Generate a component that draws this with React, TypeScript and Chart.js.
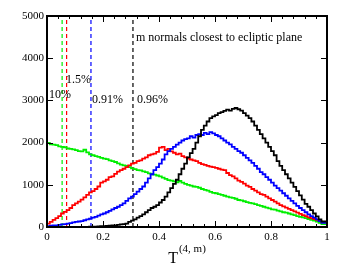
import React, { useEffect, useRef } from "react";
import { Chart, registerables } from "chart.js";

Chart.register(...registerables);

const binWidth = 0.01;

const blackCounts = [
  0, 0, 0, 0, 0, 0, 0, 0, 0, 0,
  0, 0, 0, 0, 5, 5, 10, 10, 10, 15,
  20, 20, 25, 30, 35, 40, 50, 60, 70, 80,
  120, 150, 180, 220, 260, 300, 350, 400, 450, 480,
  520, 580, 640, 720, 820, 920, 1020, 1120, 1250, 1380,
  1500, 1650, 1750, 1850, 2000, 2150, 2300, 2400, 2500, 2580,
  2620, 2650, 2700, 2720, 2750, 2780, 2760, 2800, 2820, 2790,
  2760, 2700, 2640, 2580, 2500, 2400, 2300, 2200, 2100, 2000,
  1900, 1800, 1700, 1560, 1450, 1350, 1250, 1150, 1050, 950,
  850, 750, 650, 550, 480, 400, 320, 250, 180, 130,
];

const blueCounts = [
  10, 20, 30, 40, 40, 50, 60, 70, 80, 90,
  110, 120, 130, 140, 160, 180, 200, 220, 240, 270,
  300, 320, 350, 380, 420, 450, 480, 520, 560, 620,
  680, 720, 780, 840, 900, 960, 1050, 1150, 1250, 1350,
  1420, 1500, 1600, 1720, 1800, 1850, 1900, 1950, 2000, 2050,
  2080, 2100, 2150, 2120, 2180, 2200, 2180, 2230, 2200, 2250,
  2220, 2180, 2150, 2100, 2050, 2000, 1960, 1900, 1850, 1800,
  1760, 1700, 1640, 1580, 1520, 1450, 1380, 1300, 1250, 1180,
  1120, 1050, 980, 920, 860, 800, 740, 680, 620, 560,
  500, 450, 400, 350, 300, 260, 220, 180, 140, 100,
];

const redCounts = [
  30, 80, 120, 170, 210, 260, 320, 360, 400, 450,
  520, 560, 600, 650, 700, 760, 820, 850, 900, 960,
  1050, 1080, 1120, 1180, 1200, 1260, 1310, 1350, 1380, 1420,
  1460, 1500, 1520, 1560, 1580, 1620, 1650, 1700, 1720, 1740,
  1780, 1880, 1900, 1820, 1850, 1790, 1760, 1720, 1740, 1680,
  1650, 1620, 1600, 1580, 1560, 1520, 1490, 1470, 1450, 1430,
  1420, 1400, 1380, 1360, 1350, 1280, 1230, 1200, 1150, 1100,
  1070, 1030, 980, 950, 900, 860, 820, 780, 760, 720,
  680, 640, 600, 560, 520, 490, 460, 430, 400, 370,
  340, 310, 280, 260, 230, 210, 190, 170, 140, 110,
];

const greenCounts = [
  2000, 1990, 1960, 1950, 1940, 1910, 1900, 1890, 1860, 1850,
  1840, 1820, 1800, 1790, 1830, 1770, 1720, 1700, 1680, 1660,
  1640, 1620, 1610, 1580, 1560, 1540, 1510, 1480, 1460, 1450,
  1420, 1390, 1370, 1350, 1340, 1320, 1300, 1270, 1250, 1240,
  1220, 1200, 1170, 1140, 1110, 1100, 1080, 1060, 1090, 1050,
  1020, 1000, 980, 960, 950, 930, 900, 880, 860, 830,
  810, 800, 780, 760, 740, 720, 700, 690, 670, 640,
  630, 610, 590, 570, 560, 540, 520, 500, 480, 460,
  440, 420, 410, 390, 370, 350, 340, 320, 300, 280,
  260, 240, 230, 210, 190, 170, 150, 130, 100, 70,
];

const seriesColors = ["#000000", "#0000ff", "#ff0000", "#00ee00"];
const seriesCounts = [blackCounts, blueCounts, redCounts, greenCounts];

// dashed thresholds (green, red, blue, black)
const thresholdX = [0.054, 0.07, 0.157, 0.307];
const thresholdColors = ["#00ee00", "#ff0000", "#0000ff", "#000000"];

// text labels: [text, x, y]
const labelTexts = ["10%", "1.5%", "0.91%", "0.96%", "m normals closest to ecliptic plane"];
const labelX = [0.007, 0.068, 0.161, 0.321, 0.318];
const labelY = [3057, 3412, 2938, 2938, 4408];

const xTicks = [0, 0.2, 0.4, 0.6, 0.8, 1];
const yTicks = [0, 1000, 2000, 3000, 4000, 5000];
const xMinorStep = 0.04;

const SERIF = "'Liberation Serif', 'DejaVu Serif', serif";

function histPoints(counts: number[]) {
  const pts = counts.map((v, i) => ({ x: i * binWidth, y: v }));
  pts.push({ x: counts.length * binWidth, y: counts[counts.length - 1] });
  return pts;
}

const decorPlugin = {
  id: "decor",
  afterDraw(chart: any) {
    const { ctx, chartArea, scales } = chart;
    const xs = scales.x;
    const ys = scales.y;
    const { left, right, top, bottom } = chartArea;
    ctx.save();
    // frame
    ctx.strokeStyle = "#000";
    ctx.lineWidth = 2;
    ctx.strokeRect(left, top, right - left, bottom - top);
    // ticks
    ctx.lineWidth = 1;
    ctx.beginPath();
    for (let k = 0; k <= 25; k++) {
      const v = k * xMinorStep;
      const px = Math.round(xs.getPixelForValue(v)) + 0.5;
      const isMajor = xTicks.some((t) => Math.abs(t - v) < 1e-6);
      const len = isMajor ? 6 : 3;
      ctx.moveTo(px, bottom);
      ctx.lineTo(px, bottom - len);
      ctx.moveTo(px, top);
      ctx.lineTo(px, top + len);
    }
    yTicks.forEach((t) => {
      const py = Math.round(ys.getPixelForValue(t)) + 0.5;
      ctx.moveTo(left, py);
      ctx.lineTo(left + 6, py);
      ctx.moveTo(right, py);
      ctx.lineTo(right - 6, py);
    });
    ctx.stroke();
    // text labels
    ctx.fillStyle = "#000";
    ctx.font = "12px " + SERIF;
    ctx.textAlign = "left";
    ctx.textBaseline = "alphabetic";
    labelTexts.forEach((t, i) => {
      ctx.fillText(t, xs.getPixelForValue(labelX[i]), ys.getPixelForValue(labelY[i]));
    });
    // x axis title T^(4, m)
    const mainFont = "16px " + SERIF;
    const supFont = "11px " + SERIF;
    ctx.font = mainFont;
    const wT = ctx.measureText("T").width;
    ctx.font = supFont;
    const sup = "(4, m)";
    const wS = ctx.measureText(sup).width;
    const cx = (left + right) / 2;
    const x0 = cx - (wT + wS + 1) / 2;
    const base = bottom + 36;
    ctx.font = mainFont;
    ctx.fillText("T", x0, base);
    ctx.font = supFont;
    ctx.fillText(sup, x0 + wT + 1, base - 11);
    ctx.restore();
  },
};

export default function App() {
  const ref = useRef<HTMLCanvasElement | null>(null);
  useEffect(() => {
    if (!ref.current) return;
    const datasets: any[] = [];
    seriesCounts.forEach((c, i) => {
      datasets.push({
        data: histPoints(c),
        borderColor: seriesColors[i],
        borderWidth: 1.8,
        stepped: "after",
        pointRadius: 0,
        fill: false,
      });
    });
    thresholdX.forEach((x, i) => {
      datasets.push({
        data: [
          { x, y: 0 },
          { x, y: 5000 },
        ],
        borderColor: thresholdColors[i],
        borderWidth: 1.2,
        borderDash: [4, 3],
        pointRadius: 0,
        fill: false,
      });
    });
    const chart = new Chart(ref.current, {
      type: "line",
      data: { datasets },
      options: {
        animation: false,
        responsive: false,
        devicePixelRatio: 1,
        layout: { padding: { left: 0, right: 31, top: 16, bottom: 0 } },
        plugins: { legend: { display: false }, tooltip: { enabled: false } },
        scales: {
          x: {
            type: "linear",
            min: 0,
            max: 1,
            afterFit: (s: any) => {
              s.height = 50;
            },
            afterBuildTicks: (s: any) => {
              s.ticks = xTicks.map((v) => ({ value: v }));
            },
            grid: { display: false, drawTicks: false },
            border: { display: false },
            ticks: {
              padding: 4,
              color: "#000",
              font: { family: SERIF, size: 11 },
              maxRotation: 0,
              callback: (v: any) => String(Number(v)),
            },
          },
          y: {
            type: "linear",
            min: 0,
            max: 5000,
            afterFit: (s: any) => {
              s.width = 47;
            },
            afterBuildTicks: (s: any) => {
              s.ticks = yTicks.map((v) => ({ value: v }));
            },
            grid: { display: false, drawTicks: false },
            border: { display: false },
            ticks: {
              padding: 3,
              color: "#000",
              font: { family: SERIF, size: 11 },
              callback: (v: any) => String(v),
            },
          },
        },
      },
      plugins: [decorPlugin],
    });
    return () => chart.destroy();
  }, []);
  return (
    <div style={{ position: "fixed", left: 0, top: 0, width: 358, height: 277, background: "#fff" }}>
      <canvas ref={ref} width={358} height={277} style={{ width: 358, height: 277, display: "block" }} />
    </div>
  );
}
